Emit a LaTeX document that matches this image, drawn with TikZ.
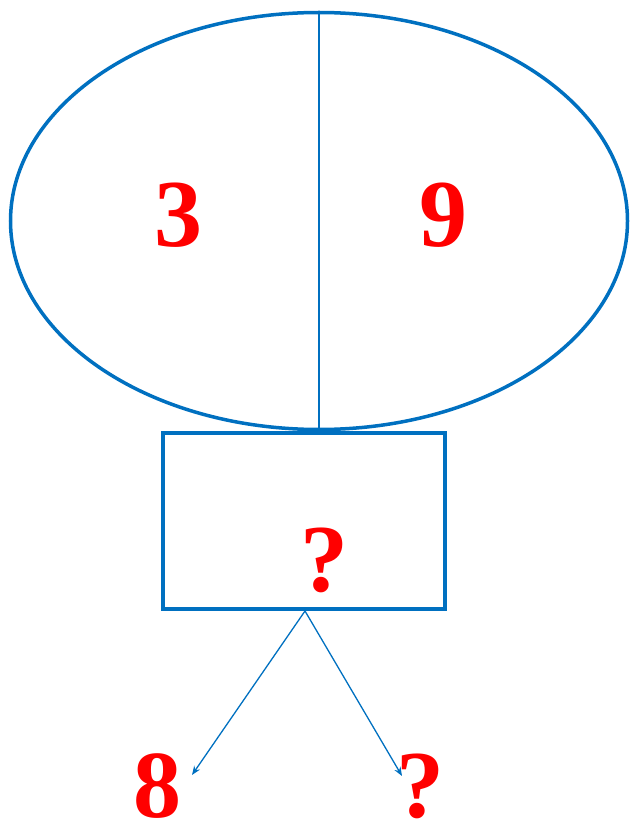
\documentclass[tikz,border=0pt]{standalone}
\usepackage{fontspec}
\setmainfont{Liberation Serif}
\usetikzlibrary{arrows.meta,shapes.geometric}
\definecolor{lineblue}{HTML}{0070C0}
\definecolor{numred}{HTML}{FF0000}
\tikzset{
  num/.style={text=numred, font=\bfseries\fontsize{96}{96}\selectfont, inner sep=0pt},
}
\begin{document}
\begin{tikzpicture}[x=1pt, y=-1pt, >={Stealth[length=9pt,width=7pt,inset=3pt]}]
	\useasboundingbox (0,0) rectangle (629,826);
	% 1. 椭圆与方框
	\node[ellipse, draw=lineblue, line width=3.5pt, minimum width=617pt, minimum height=417pt, inner sep=0pt] (oval) at (319,221) {};
	\node[rectangle, draw=lineblue, line width=4.5pt, minimum width=282pt, minimum height=176pt, inner sep=0pt] (box) at (304,521) {};
	
	% 2. 分隔线
	\draw[lineblue, line width=1.3pt] (oval.north) -- (box.north -| oval.north);
	
	% 3. 分支箭头
	\coordinate (S) at (305,611);
	\coordinate (L) at (192,775);
	\coordinate (R) at (402,776);
	\draw[->, lineblue, line width=1.3pt] (S) -- (L);
	\draw[->, lineblue, line width=1.3pt] (S) -- (R);
	
	% 4. 数字标注
	\node[num] (three) at (178,215) {3};
	\node[num] (nine) at (443,215) {9};
	\node[num] (qbox) at (324,560) {?};
	\node[num] (eight) at (157,786) {8};
	\node[num] (qright) at (420,786) {?};
	
\end{tikzpicture}
\end{document}
